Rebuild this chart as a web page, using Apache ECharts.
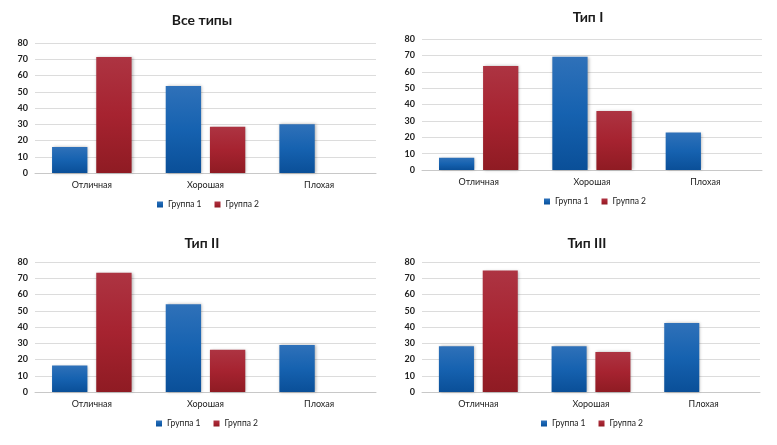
<!DOCTYPE html>
<html><head><meta charset="utf-8">
<script src="https://cdn.jsdelivr.net/npm/echarts@6/dist/echarts.min.js"></script>
<style>html,body{margin:0;padding:0;background:#fff}#c{width:777px;height:445px}</style>
</head><body><div id="c"></div>
<script>
const categories = ['Отличная', 'Хорошая', 'Плохая'];
const seriesNames = ['Группа 1', 'Группа 2'];
const yTicks = [0, 10, 20, 30, 40, 50, 60, 70, 80];
const panelTitles = ['Все типы', 'Тип I', 'Тип II', 'Тип III'];

const allGroup1 = [16, 53.5, 30];
const allGroup2 = [71.4, 28.5, null];
const t1Group1 = [7.5, 69.2, 22.9];
const t1Group2 = [63.5, 36.1, null];
const t2Group1 = [16.3, 54, 28.9];
const t2Group2 = [73.4, 26, null];
const t3Group1 = [28.2, 28.2, 42.4];
const t3Group2 = [74.7, 24.6, null];

const panelData = [[allGroup1, allGroup2], [t1Group1, t1Group2], [t2Group1, t2Group2], [t3Group1, t3Group2]];

const FONT = 'Lato, "Open Sans", sans-serif';
const grids = [
  {left: 35, right: 401, top: 43, bottom: 272},
  {left: 422, right: 15, top: 39, bottom: 275},
  {left: 35, right: 401, top: 262, bottom: 53},
  {left: 422, right: 17, top: 262, bottom: 53}
];
const titlePos = [{x: 197, y: 8}, {x: 583, y: 5}, {x: 197, y: 231}, {x: 582, y: 231}];
const legendPos = [{x: 152, y: 195}, {x: 539, y: 192}, {x: 151, y: 414}, {x: 536, y: 414}];

const blue = new echarts.graphic.LinearGradient(0, 0, 0, 1, [
  {offset: 0, color: '#2f71b9'}, {offset: 0.5, color: '#1662b0'}, {offset: 1, color: '#0a4f98'}]);
const red = new echarts.graphic.LinearGradient(0, 0, 0, 1, [
  {offset: 0, color: '#ad3442'}, {offset: 0.5, color: '#a62330'}, {offset: 1, color: '#8f1b23'}]);
const colors = [blue, red];

const option = {
  animation: false,
  backgroundColor: '#fff',
  title: panelTitles.map((t, i) => ({
    text: t, left: titlePos[i].x, top: titlePos[i].y, textAlign: 'center',
    textStyle: {fontFamily: FONT, fontSize: 14, fontWeight: 'bold', color: '#1a1a1a'}
  })),
  legend: legendPos.map(p => ({
    data: seriesNames, left: p.x, top: p.y, icon: 'rect', itemWidth: 6, itemHeight: 6, itemGap: 13,
    textStyle: {fontFamily: FONT, fontSize: 8.5, color: '#222'}
  })),
  grid: grids,
  xAxis: grids.map((g, i) => ({
    type: 'category', gridIndex: i, data: categories,
    axisLine: {lineStyle: {color: '#c8c8c8'}}, axisTick: {show: false},
    axisLabel: {fontFamily: FONT, fontSize: 9, color: '#222', margin: 8}
  })),
  yAxis: grids.map((g, i) => ({
    type: 'value', gridIndex: i, min: yTicks[0], max: yTicks[yTicks.length - 1], interval: yTicks[1] - yTicks[0],
    axisLine: {show: false}, axisTick: {show: false},
    splitLine: {lineStyle: {color: '#dcdcdc'}},
    axisLabel: {fontFamily: FONT, fontSize: 9, fontWeight: 'bold', color: '#222', margin: 7}
  })),
  series: []
};
panelData.forEach((pd, i) => {
  pd.forEach((vals, j) => {
    option.series.push({
      type: 'bar', name: seriesNames[j], xAxisIndex: i, yAxisIndex: i, data: vals,
      barGap: '25%', barCategoryGap: '30%',
      itemStyle: {color: colors[j], shadowColor: 'rgba(0,0,0,0.3)', shadowBlur: 3, shadowOffsetX: 1, shadowOffsetY: 0}
    });
  });
});
const chart = echarts.init(document.getElementById('c'));
chart.setOption(option);
</script>
</body></html>
